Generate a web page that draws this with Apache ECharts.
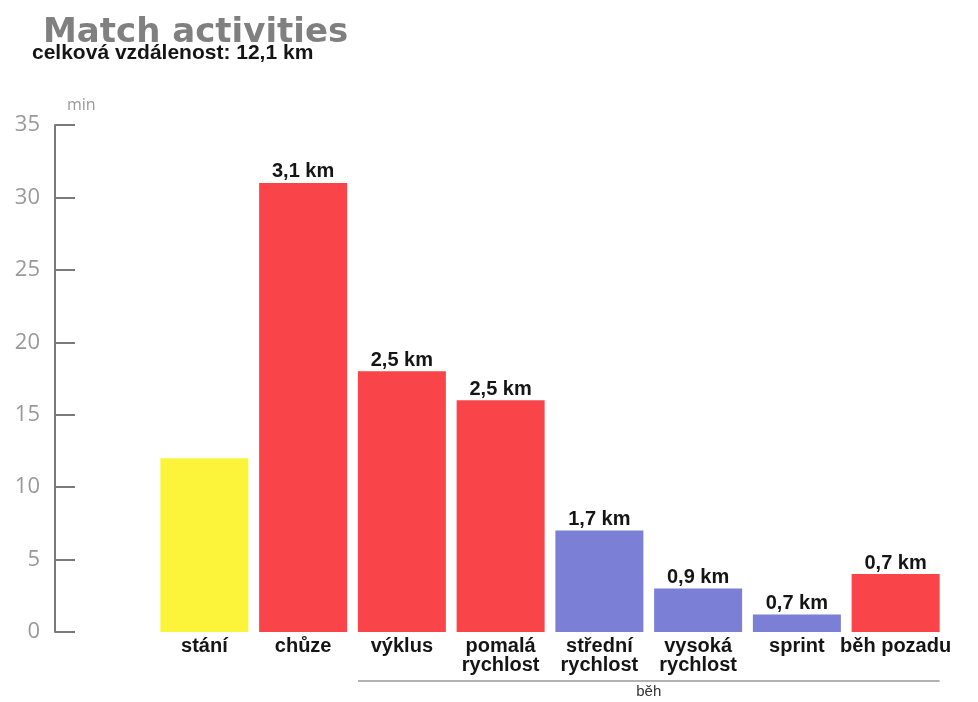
<!DOCTYPE html>
<html>
<head>
<meta charset="utf-8">
<script src="https://cdn.jsdelivr.net/npm/echarts@6/dist/echarts.min.js"></script>
<style>
  html, body { margin: 0; padding: 0; background: #fff; }
  #chart { width: 978px; height: 702px; }
</style>
</head>
<body>
<div id="chart"></div>
<script>
// activities and their duration in minutes
const categories = ['stání', 'chůze', 'výklus', 'pomalá\nrychlost', 'střední\nrychlost', 'vysoká\nrychlost', 'sprint', 'běh pozadu'];
const minutes = [12, 31, 18, 16, 7, 3, 1.2, 4];
const distances = ['', '3,1 km', '2,5 km', '2,5 km', '1,7 km', '0,9 km', '0,7 km', '0,7 km'];
const groups = ['stand', 'walk', 'run', 'run', 'runBlue', 'runBlue', 'runBlue', 'run'];
const yTicks = [0, 5, 10, 15, 20, 25, 30, 35];

const colors = { stand: '#fcf43a', walk: '#f9444a', run: '#f9444a', runBlue: '#7b7fd6' };
const BAR_W = 88;

const chart = echarts.init(document.getElementById('chart'));

chart.setOption({
  animation: false,
  title: [
    {
      text: 'Match activities',
      left: 38, top: 11,
      textStyle: { fontFamily: 'DejaVu Sans', fontSize: 34, fontWeight: 'bold', color: '#808080' }
    },
    {
      text: 'celková vzdálenost: 12,1 km',
      left: 27, top: 38,
      textStyle: { fontFamily: 'Liberation Sans', fontSize: 21, fontWeight: 'bold', color: '#151515' }
    }
  ],
  grid: { left: 155, right: 33, top: 125, bottom: 70 },
  xAxis: {
    type: 'category',
    data: categories,
    axisLine: { show: false },
    axisTick: { show: false },
    axisLabel: {
      interval: 0,
      margin: 5,
      color: '#151515',
      fontFamily: 'Liberation Sans',
      fontSize: 20,
      fontWeight: 'bold',
      lineHeight: 19,
      verticalAlign: 'top'
    }
  },
  yAxis: {
    type: 'value',
    min: yTicks[0],
    max: yTicks[yTicks.length - 1],
    interval: 5,
    offset: 100,
    name: 'min',
    nameLocation: 'end',
    nameGap: 12,
    nameTextStyle: { color: '#999', fontFamily: 'Open Sans', fontSize: 16, align: 'left', padding: [0, 0, 0, 12] },
    axisLine: { show: true, lineStyle: { color: '#7a7a7a', width: 2 } },
    axisTick: { show: true, inside: true, length: 20, lineStyle: { color: '#7a7a7a', width: 2 } },
    axisLabel: { color: '#999', fontFamily: 'Open Sans', fontSize: 22, margin: 15 },
    splitLine: { show: false }
  },
  series: [{
    type: 'bar',
    barWidth: BAR_W,
    data: minutes.map((v, i) => ({ value: v, itemStyle: { color: colors[groups[i]] } })),
    label: {
      show: true,
      position: 'top',
      distance: 1,
      formatter: p => distances[p.dataIndex],
      color: '#151515',
      fontFamily: 'Liberation Sans',
      fontSize: 20,
      fontWeight: 'bold'
    }
  }]
});

// "běh" bracket under the running categories
const first = chart.convertToPixel({ xAxisIndex: 0 }, 2);
const last = chart.convertToPixel({ xAxisIndex: 0 }, categories.length - 1);
const x1 = first - BAR_W / 2;
const x2 = last + BAR_W / 2;
chart.setOption({
  graphic: [
    { type: 'line', shape: { x1: x1, y1: 681, x2: x2, y2: 681 }, style: { stroke: '#999', lineWidth: 1.5 } },
    {
      type: 'text', x: (x1 + x2) / 2, y: 684,
      style: { text: 'běh', fill: '#333', font: '15px "Liberation Sans"', align: 'center', verticalAlign: 'top' }
    }
  ]
});
</script>
</body>
</html>
